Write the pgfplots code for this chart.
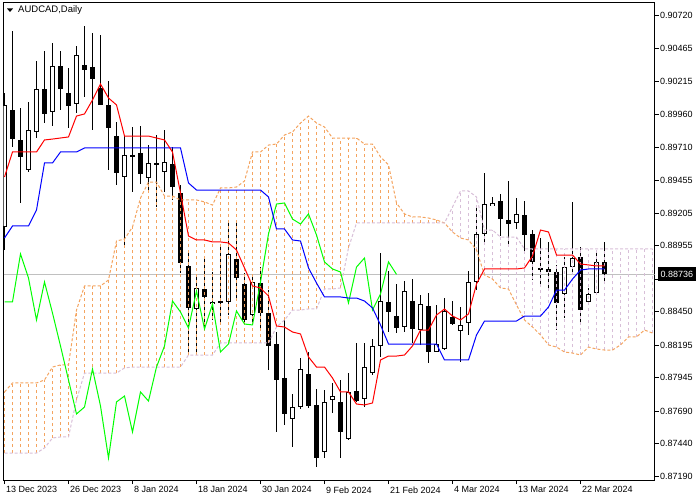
\documentclass[border=0pt]{standalone}
\usepackage{fontspec}
\setmainfont{Liberation Sans}
\usepackage{pgfplots}
\usepackage{pgfplotstable}
\pgfplotsset{compat=1.18}
\definecolor{sandy}{RGB}{244,164,96}
\definecolor{thistl}{RGB}{216,191,216}
\definecolor{limeg}{RGB}{0,255,0}
\definecolor{bidgray}{RGB}{192,192,192}

\pgfplotstableread{
i O H L C
0 0.89098 0.90123 0.88922 0.90032
1 0.89993 0.90598 0.89710 0.89771
2 0.89764 0.90009 0.89282 0.89634
3 0.89534 0.90055 0.89519 0.89840
4 0.89825 0.90368 0.89779 0.90154
5 0.90154 0.90445 0.89894 0.89963
6 0.89978 0.90506 0.89871 0.90330
7 0.90330 0.90445 0.89993 0.90154
8 0.90123 0.90315 0.89856 0.90024
9 0.90039 0.90483 0.89970 0.90414
10 0.90338 0.90636 0.90093 0.90299
11 0.90322 0.90582 0.89840 0.90230
12 0.90162 0.90567 0.90032 0.90032
13 0.90032 0.90215 0.89534 0.89856
14 0.89794 0.89902 0.89420 0.89511
15 0.89481 0.89802 0.88961 0.89649
16 0.89649 0.89863 0.89366 0.89641
17 0.89664 0.89871 0.89427 0.89504
18 0.89473 0.89726 0.89381 0.89588
19 0.89588 0.89802 0.89251 0.89580
20 0.89519 0.89840 0.89366 0.89596
21 0.89580 0.89710 0.89305 0.89404
22 0.89358 0.89420 0.88746 0.88823
23 0.88800 0.88907 0.88134 0.88479
24 0.88471 0.88731 0.88127 0.88632
25 0.88624 0.88876 0.88326 0.88563
26 0.88509 0.88754 0.88387 0.88525
27 0.88532 0.88961 0.88356 0.88525
28 0.88525 0.89152 0.88425 0.88892
29 0.88853 0.89152 0.88540 0.88708
30 0.88662 0.88746 0.88349 0.88387
31 0.88425 0.88731 0.88349 0.88678
32 0.88670 0.88792 0.88310 0.88440
33 0.88440 0.88616 0.88004 0.88188
34 0.88203 0.88295 0.87530 0.87928
35 0.87943 0.88387 0.87584 0.87668
36 0.87629 0.87821 0.87415 0.87721
37 0.87721 0.88096 0.87706 0.88012
38 0.87974 0.88142 0.87714 0.87729
39 0.87737 0.87859 0.87262 0.87331
40 0.87377 0.87851 0.87331 0.87760
41 0.87775 0.87905 0.87675 0.87805
42 0.87760 0.87928 0.87331 0.87530
43 0.87476 0.87981 0.87469 0.87836
44 0.87844 0.88211 0.87760 0.87767
45 0.87782 0.88211 0.87721 0.88027
46 0.87981 0.88241 0.87966 0.88188
47 0.88188 0.88899 0.88104 0.88532
48 0.88525 0.88762 0.88295 0.88448
49 0.88417 0.88662 0.88287 0.88326
50 0.88333 0.88685 0.88295 0.88609
51 0.88532 0.88700 0.88211 0.88318
52 0.88310 0.88578 0.88196 0.88509
53 0.88494 0.88593 0.88058 0.88142
54 0.88142 0.88502 0.88142 0.88203
55 0.88165 0.88555 0.88157 0.88456
56 0.88410 0.88532 0.88349 0.88356
57 0.88303 0.88486 0.88066 0.88349
58 0.88364 0.88762 0.88272 0.88678
59 0.88678 0.89251 0.88616 0.89045
60 0.89045 0.89511 0.88961 0.89274
61 0.89259 0.89328 0.89259 0.89282
62 0.89297 0.89351 0.89029 0.89159
63 0.89152 0.89450 0.88961 0.89121
64 0.89129 0.89320 0.89083 0.89198
65 0.89190 0.89297 0.88907 0.89037
66 0.89045 0.89075 0.88693 0.88831
67 0.88785 0.89014 0.88655 0.88777
68 0.88777 0.88983 0.88632 0.88754
69 0.88754 0.88808 0.88310 0.88517
70 0.88586 0.88869 0.88402 0.88792
71 0.88792 0.89290 0.88754 0.88861
72 0.88869 0.88945 0.88372 0.88463
73 0.88525 0.88632 0.88525 0.88586
74 0.88593 0.88922 0.88593 0.88831
75 0.88831 0.88983 0.88670 0.88736
}\ohlc

\pgfplotstableread{
i T K
0 0.89481 0.89014
1 0.89672 0.89106
2 0.89672 0.89106
3 0.89672 0.89106
4 0.89672 0.89228
5 0.89764 0.89588
6 0.89771 0.89588
7 0.89779 0.89672
8 0.89787 0.89672
9 0.89947 0.89672
10 0.89963 0.89703
11 0.90070 0.89703
12 0.90192 0.89703
13 0.90085 0.89703
14 0.90032 0.89703
15 0.89794 0.89703
16 0.89794 0.89703
17 0.89794 0.89703
18 0.89794 0.89703
19 0.89779 0.89703
20 0.89764 0.89703
21 0.89672 0.89703
22 0.89358 0.89703
23 0.89029 0.89435
24 0.88999 0.89381
25 0.88999 0.89381
26 0.88984 0.89381
27 0.88984 0.89381
28 0.88976 0.89381
29 0.88922 0.89381
30 0.88785 0.89381
31 0.88647 0.89381
32 0.88632 0.89381
33 0.88570 0.89328
34 0.88341 0.89083
35 0.88333 0.89083
36 0.88295 0.88999
37 0.88280 0.88991
38 0.88104 0.88785
39 0.88027 0.88670
40 0.88027 0.88563
41 0.87943 0.88563
42 0.87836 0.88563
43 0.87836 0.88555
44 0.87744 0.88555
45 0.87737 0.88532
46 0.87752 0.88479
47 0.88081 0.88349
48 0.88111 0.88203
49 0.88111 0.88203
50 0.88119 0.88203
51 0.88188 0.88203
52 0.88310 0.88203
53 0.88310 0.88203
54 0.88425 0.88203
55 0.88471 0.88081
56 0.88417 0.88081
57 0.88387 0.88081
58 0.88433 0.88081
59 0.88662 0.88272
60 0.88777 0.88379
61 0.88777 0.88379
62 0.88777 0.88379
63 0.88777 0.88379
64 0.88777 0.88379
65 0.88785 0.88417
66 0.88876 0.88417
67 0.89075 0.88417
68 0.89060 0.88486
69 0.88884 0.88616
70 0.88884 0.88616
71 0.88884 0.88700
72 0.88815 0.88769
73 0.88808 0.88777
74 0.88800 0.88777
75 0.88800 0.88777
}\lines

\pgfplotstableread{
i A B
0 0.87836 0.87369
1 0.87905 0.87369
2 0.87905 0.87369
3 0.87905 0.87369
4 0.87905 0.87369
5 0.87928 0.87408
6 0.88027 0.87484
7 0.88043 0.87492
8 0.88043 0.87492
9 0.88463 0.87775
10 0.88647 0.87981
11 0.88647 0.87981
12 0.88647 0.87981
13 0.88693 0.87981
14 0.88991 0.87981
15 0.89006 0.88020
16 0.89098 0.88027
17 0.89320 0.88027
18 0.89442 0.88027
19 0.89442 0.88027
20 0.89335 0.88027
21 0.89335 0.88027
22 0.89305 0.88027
23 0.89305 0.88119
24 0.89305 0.88119
25 0.89290 0.88119
26 0.89266 0.88119
27 0.89397 0.88211
28 0.89397 0.88211
29 0.89404 0.88211
30 0.89450 0.88211
31 0.89672 0.88211
32 0.89672 0.88211
33 0.89725 0.88211
34 0.89733 0.88333
35 0.89802 0.88387
36 0.89825 0.88463
37 0.89894 0.88463
38 0.89947 0.88471
39 0.89894 0.88471
40 0.89863 0.88624
41 0.89779 0.88624
42 0.89779 0.88632
43 0.89779 0.88938
44 0.89779 0.89129
45 0.89733 0.89129
46 0.89733 0.89129
47 0.89634 0.89129
48 0.89573 0.89129
49 0.89282 0.89129
50 0.89198 0.89129
51 0.89175 0.89129
52 0.89175 0.89129
53 0.89167 0.89129
54 0.89152 0.89129
55 0.89129 0.89129
56 0.89060 0.89251
57 0.89014 0.89374
58 0.88999 0.89374
59 0.88922 0.89328
60 0.88731 0.89075
61 0.88700 0.89075
62 0.88632 0.89021
63 0.88624 0.89021
64 0.88502 0.89021
65 0.88387 0.88930
66 0.88333 0.88930
67 0.88272 0.88930
68 0.88196 0.88930
69 0.88180 0.88930
70 0.88142 0.88930
71 0.88134 0.88930
72 0.88119 0.88930
73 0.88180 0.88930
74 0.88165 0.88930
75 0.88157 0.88930
76 0.88157 0.88930
77 0.88196 0.88930
78 0.88257 0.88930
79 0.88257 0.88930
80 0.88310 0.88930
81 0.88287 0.88930
}\cloud

\pgfplotstableread{
j C
0 0.88525
1 0.88525
2 0.88892
3 0.88708
4 0.88387
5 0.88678
6 0.88440
7 0.88188
8 0.87928
9 0.87668
10 0.87721
11 0.88012
12 0.87729
13 0.87331
14 0.87760
15 0.87805
16 0.87530
17 0.87836
18 0.87767
19 0.88027
20 0.88188
21 0.88532
22 0.88448
23 0.88326
24 0.88609
25 0.88318
26 0.88509
27 0.88142
28 0.88203
29 0.88456
30 0.88356
31 0.88349
32 0.88678
33 0.89045
34 0.89274
35 0.89282
36 0.89159
37 0.89121
38 0.89198
39 0.89037
40 0.88831
41 0.88777
42 0.88754
43 0.88517
44 0.88792
45 0.88861
46 0.88463
47 0.88586
48 0.88831
49 0.88736
}\chikou

\begin{document}
\begin{tikzpicture}
\path[use as bounding box] (0,0) rectangle (700pt,500pt);
\begin{axis}[
  at={(3.5pt,20pt)}, anchor=south west,
  scale only axis, width=651pt, height=477.3pt,
  xmin=-0.125, xmax=81.25, ymin=0.871628, ymax=0.908141,
  clip mode=individual,
  axis line style={line width=0.8pt},
  tick style={black, line width=0.8pt},
  tick align=outside, major tick length=4pt,
  xtick pos=bottom, ytick pos=right, yticklabel pos=right,
  xtick={0,8,16,24,32,40,48,56,64,72},
  xticklabels={13 Dec 2023,26 Dec 2023,8 Jan 2024,18 Jan 2024,30 Jan 2024,9 Feb 2024,21 Feb 2024,4 Mar 2024,13 Mar 2024,22 Mar 2024},
  xticklabel style={anchor=north west, xshift=-2pt, yshift=1pt, font=\fontsize{9}{10}\selectfont},
  ytick={0.87190,0.87440,0.87690,0.87945,0.88195,0.88450,0.88700,0.88955,0.89205,0.89455,0.89710,0.89960,0.90215,0.90465,0.90720},
  yticklabels={0.87190,0.87440,0.87690,0.87945,0.88195,0.88450,{},0.88955,0.89205,0.89455,0.89710,0.89960,0.90215,0.90465,0.90720},
  yticklabel style={anchor=west, xshift=-2pt, font=\fontsize{9}{10}\selectfont},
]
% bid line
\addplot[bidgray, line width=0.8pt, forget plot] coordinates {(-0.125,0.88736) (81.25,0.88736)};
% wicks
\addplot[draw=none, forget plot, error bars/.cd, y dir=both, y explicit, error mark=none,
  error bar style={draw=black, solid, line width=1pt}]
  table[x=i, y expr={(\thisrow{H}+\thisrow{L})/2}, y error expr={(\thisrow{H}-\thisrow{L})/2}] {\ohlc};
% bodies (outline)
\addplot[draw=none, forget plot, error bars/.cd, y dir=both, y explicit, error mark=none,
  error bar style={draw=black, solid, line width=5pt}]
  table[x=i, y expr={(\thisrow{O}+\thisrow{C})/2}, y error expr={max(abs(\thisrow{C}-\thisrow{O})/2,0.0000383)}] {\ohlc};
% bullish bodies (white inside)
\addplot[draw=none, forget plot, error bars/.cd, y dir=both, y explicit, error mark=none,
  error bar style={draw=white, solid, line width=3pt}]
  table[x=i, y expr={(\thisrow{O}+\thisrow{C})/2}, y error expr={max((\thisrow{C}-\thisrow{O})/2-0.0000765,0)}] {\ohlc};
% cloud hatch
\addplot[sandy, line width=0.8pt, dash pattern=on 3pt off 3pt, forget plot, restrict x to domain=0:55,
  quiver={u=0, v=\thisrow{A}-\thisrow{B}}]
  table[x=i, y=B] {\cloud};
\addplot[thistl, line width=0.8pt, dash pattern=on 3pt off 3pt, forget plot, restrict x to domain=56:81,
  quiver={u=0, v=\thisrow{B}-\thisrow{A}}]
  table[x=i, y=A] {\cloud};
% senkou spans
\addplot[sandy, dash pattern=on 3pt off 2pt, line width=1pt] table[x=i, y=A] {\cloud};
\addplot[thistl, dash pattern=on 3pt off 2pt, line width=1pt] table[x=i, y=B] {\cloud};
% chikou
\addplot[limeg, line width=1pt] table[x=j, y=C] {\chikou};
% kijun
\addplot[blue, line width=1pt] table[x=i, y=K] {\lines};
% tenkan
\addplot[red, line width=1pt] table[x=i, y=T] {\lines};
% price label
\node[anchor=west, fill=black, text=white, inner xsep=3pt, inner ysep=0pt, minimum height=14pt,
  xshift=3pt, font=\fontsize{9}{10}\selectfont] at (axis cs:81.25,0.88736) {0.88736};
\end{axis}
\fill (7pt,491.5pt) -- (13pt,491.5pt) -- (10pt,488pt) -- cycle;
\node[anchor=west, inner sep=0pt, font=\fontsize{9.5}{11}\selectfont] at (18pt,489.5pt) {AUDCAD,Daily};
\end{tikzpicture}
\end{document}
